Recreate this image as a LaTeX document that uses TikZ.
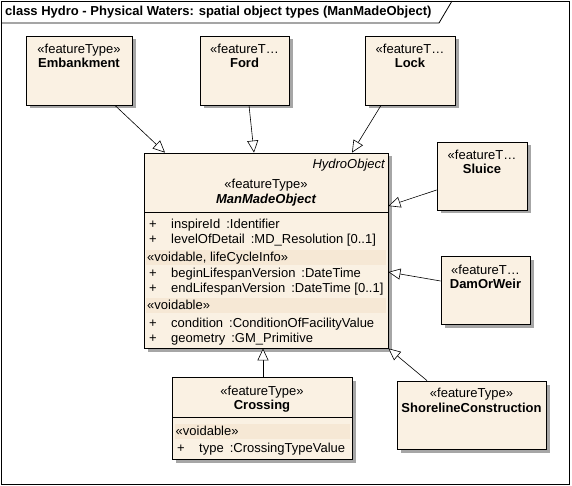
\documentclass[tikz,border=0pt]{standalone}
\usepackage{fontspec}
\setmainfont{Liberation Sans}
\usetikzlibrary{shapes,positioning,arrows.meta,shadows}
\definecolor{clsfill}{RGB}{250,241,227}
\definecolor{bandfill}{RGB}{246,232,213}
\tikzset{cls/.style={rectangle,draw,fill=clsfill,line width=0.8pt,inner sep=0pt,drop shadow={shadow xshift=3.5pt,shadow yshift=-3.5pt,fill=black!35,opacity=1}}}
\tikzset{txt/.style={inner sep=0pt,text height=9pt,text depth=3pt,font=\fontsize{13}{15}\selectfont}}
\tikzset{cname/.style={txt,font=\fontsize{13}{15}\selectfont\bfseries}}
\tikzset{attr/.style={txt,anchor=west}}
\tikzset{band/.style={rectangle,fill=bandfill,inner sep=0pt,minimum height=15pt,anchor=west}}
\newcommand{\attrline}[2]{\makebox[22pt][l]{+}#1\hspace{6pt}:#2}

\begin{document}
\begin{tikzpicture}[x=1pt,y=-1pt,>={Triangle[length=12pt,width=11pt,fill=white]}]
        \useasboundingbox (0,0) rectangle (572,486);
        \draw[line width=0.8pt] (1,1) rectangle (569,484);
        \draw[line width=0.8pt] (1,23) -- (439,23) -- (452,1);
        \node[anchor=west,cname] (title) at (5,12.5) {class Hydro - Physical Waters: spatial object types (ManMadeObject)};

        % top row
        \node[cls,minimum width=106pt,minimum height=69pt] (emb) at (79,70.5) {};
        \node[txt] (embst) at (79,51) {«featureType»};
        \node[cname] (embnm) at (79,65) {Embankment};

        \node[cls,minimum width=89pt,minimum height=69pt] (ford) at (244.5,70.5) {};
        \node[txt] (fordst) at (244.5,51) {«featureT…};
        \node[cname] (fordnm) at (244.5,65) {Ford};

        \node[cls,minimum width=90pt,minimum height=69pt] (lock) at (410,70.5) {};
        \node[txt] (lockst) at (410,51) {«featureT…};
        \node[cname] (locknm) at (410,65) {Lock};

        % right column
        \node[cls,minimum width=90pt,minimum height=68pt] (sluice) at (482,176) {};
        \node[txt] (sluicest) at (482,157) {«featureT…};
        \node[cname] (sluicenm) at (482,171) {Sluice};

        \node[cls,minimum width=89pt,minimum height=68pt] (dam) at (485.5,290) {};
        \node[txt] (damst) at (485.5,271) {«featureT…};
        \node[cname] (damnm) at (485.5,285) {DamOrWeir};

        % ManMadeObject
        \node[cls,minimum width=244pt,minimum height=195pt] (mmo) at (266,250.5) {};
        \node[txt,anchor=east,font=\fontsize{13}{15}\selectfont\itshape] (mmoparent) at (385,166) {HydroObject};
        \node[txt] (mmost) at (266,186) {«featureType»};
        \node[cname,font=\fontsize{13}{15}\selectfont\bfseries\itshape] (mmonm) at (266,201) {ManMadeObject};
        \draw[line width=0.8pt] (144,212) -- (388,212);
        \node[attr] (a1) at (149,225) {\attrline{inspireId}{Identifier}};
        \node[attr] (a2) at (149,240) {\attrline{levelOfDetail}{MD\_Resolution [0..1]}};
        \node[band,minimum width=240pt] (b1) at (146,257.5) {};
        \node[attr] (b1t) at (147,258) {«voidable, lifeCycleInfo»};
        \node[attr] (a3) at (149,274) {\attrline{beginLifespanVersion}{DateTime}};
        \node[attr] (a4) at (149,289) {\attrline{endLifespanVersion}{DateTime [0..1]}};
        \node[band,minimum width=240pt] (b2) at (146,305.5) {};
        \node[attr] (b2t) at (147,306) {«voidable»};
        \node[attr] (a5) at (149,324) {\attrline{condition}{ConditionOfFacilityValue}};
        \node[attr] (a6) at (149,339) {\attrline{geometry}{GM\_Primitive}};

        % bottom row
        \node[cls,minimum width=180pt,minimum height=82pt] (cross) at (262,418) {};
        \node[txt] (crossst) at (262,392.5) {«featureType»};
        \node[cname] (crossnm) at (262,406.5) {Crossing};
        \draw[line width=0.8pt] (172,417) -- (352,417);
        \node[band,minimum width=175pt] (b3) at (174.5,431.5) {};
        \node[attr] (b3t) at (175.5,432) {«voidable»};
        \node[attr] (a7) at (177,449) {\attrline{type}{CrossingTypeValue}};

        \node[cls,minimum width=149pt,minimum height=68pt] (shore) at (471.5,415) {};
        \node[txt] (shorest) at (471.5,394) {«featureType»};
        \node[cname] (shorenm) at (471.5,409) {ShorelineConstruction};

        \draw [->,line width=0.6pt] ([xshift=36pt]emb.south) to ([xshift=-101pt]mmo.north);
        \draw [->,line width=0.6pt] ([xshift=4.5pt]ford.south) to ([xshift=-12pt]mmo.north);
        \draw [->,line width=0.6pt] ([xshift=-29pt]lock.south) to ([xshift=86pt]mmo.north);
        \draw [->,line width=0.6pt] ([yshift=-14pt]sluice.west) to ([yshift=44.5pt]mmo.east);
        \draw [->,line width=0.6pt] ([yshift=9pt]dam.west) to ([yshift=-21.5pt]mmo.east);
        \draw [->,line width=0.6pt] ([xshift=1pt]cross.north) to ([xshift=-3pt]mmo.south);
        \draw [->,line width=0.6pt] ([xshift=-44.5pt]shore.north) to (mmo.south east);
    \end{tikzpicture}
\end{document}
